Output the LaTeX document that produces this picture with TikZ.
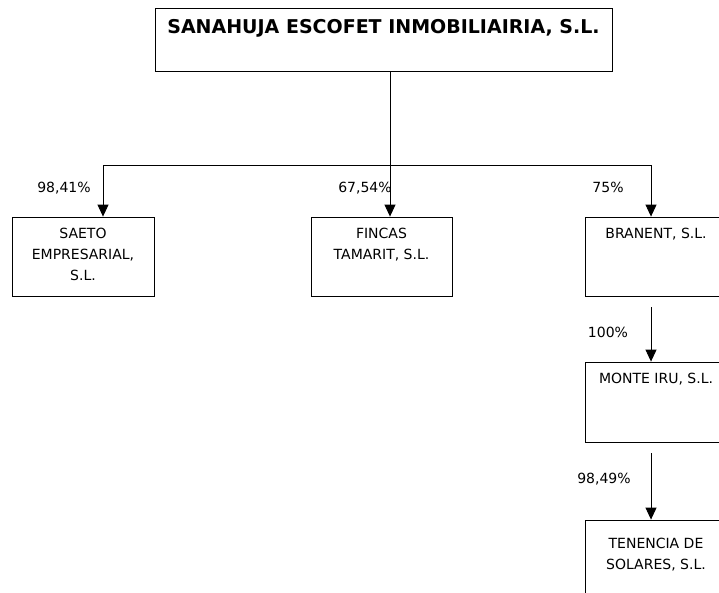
\documentclass[tikz,border=0pt]{standalone}
\usepackage{fontspec}
\setmainfont{DejaVu Sans}
\usetikzlibrary{arrows.meta}
\newcommand{\firmtext}[4]{\parbox[c][#2pt][t]{#1pt}{\centering\vspace*{#3pt}#4}}
\tikzset{
  firm/.style={draw, rectangle, inner sep=0pt, line width=0.8pt},
  share/.style={-{Triangle[width=11pt,length=12pt]}, line width=0.9pt},
  pct/.style={inner sep=0pt, anchor=base}
}

\begin{document}
\begin{tikzpicture}[x=1pt, y=-1pt, font=\fontsize{14}{21}\selectfont]
          \clip (0,0) rectangle (719,593);
          \node[firm] (top)      at (383.5,39.5)
                {\firmtext{457}{63}{11}{\fontsize{19}{23}\selectfont\bfseries SANAHUJA ESCOFET INMOBILIAIRIA, S.L.}};
          \node[firm] (saeto)    at (83,256.5)  {\firmtext{142}{79}{11}{SAETO\\EMPRESARIAL,\\S.L.}};
          \node[firm] (fincas)   at (381.5,256.5) {\firmtext{141}{79}{11}{FINCAS\\TAMARIT, S.L.}};
          \node[firm] (branent)  at (656,256.5) {\firmtext{142}{79}{11}{BRANENT, S.L.}};
          \node[firm] (monte)    at (656,402)   {\firmtext{142}{80}{11}{MONTE IRU, S.L.}};
          \node[firm] (tenencia) at (656,562)   {\firmtext{142}{84}{18}{TENENCIA DE\\SOLARES, S.L.}};
          \coordinate (split) at (390,165);

          \draw[line width=0.9pt] (top.south -| split) -- (split);
          \draw[share] (split) -| ([xshift=20]saeto.north);
          \draw[share] (split) -- (split |- fincas.north);
          \draw[share] (split) -| ([xshift=-5]branent.north);
          \draw[share] ([xshift=-5,yshift=-11]branent.south) -- ([xshift=-5]monte.north);
          \draw[share] ([xshift=-5,yshift=-11]monte.south)   -- ([xshift=-5]tenencia.north);

          \node[pct] (s1) at (64,193)  {98,41\%};
          \node[pct] (s2) at (365,193) {67,54\%};
          \node[pct] (s3) at (608,193) {75\%};
          \node[pct] (s4) at (608,337) {100\%};
          \node[pct] (s5) at (604,483) {98,49\%};
      \end{tikzpicture}
\end{document}
